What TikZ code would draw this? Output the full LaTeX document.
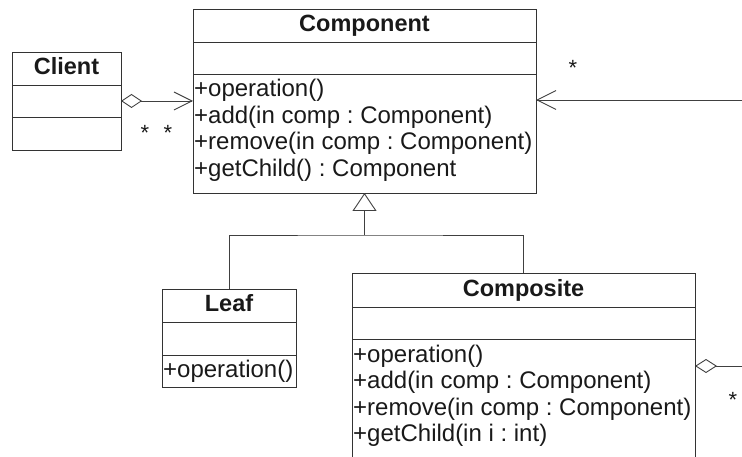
\documentclass[tikz,border=0pt]{standalone}
\usepackage{fontspec}
\setmainfont{Liberation Sans}
\usetikzlibrary{arrows.meta,calc}
\frenchspacing
\begin{document}
\begin{tikzpicture}[x=1pt,y=-1pt,
  umlbox/.style={draw=black!80, line width=0.9pt, rectangle, anchor=north west, inner sep=0pt, outer sep=0pt},
  classtitle/.style={font=\fontsize{23.5}{26}\selectfont\bfseries, anchor=base, inner sep=0pt, text=black!90},
  member/.style={font=\fontsize{24}{26}\selectfont\frenchspacing, anchor=base west, inner sep=0pt, text=black!90},
  multlabel/.style={font=\fontsize{22}{26}\selectfont, anchor=base, inner sep=0pt, text=black!90},
  compsep/.style={draw=black!80, line width=0.9pt},
  conn/.style={draw=black!75, line width=0.9pt},
  aggarrow/.style={conn, {Diamond[open,length=21pt,width=14pt]}-{Straight Barb[length=18pt,width=18pt]}},
  navarrow/.style={conn, -{Straight Barb[length=19pt,width=19pt]}},
  aggline/.style={conn, {Diamond[open,length=22pt,width=14pt]}-},
  genarrow/.style={conn, -{Triangle[open,length=18pt,width=24pt]}}
]
\useasboundingbox (0,0) rectangle (742,457);
\clip (0,0) rectangle (742,457);

% Component
\node[umlbox, minimum width=343pt, minimum height=184pt] (comp) at (193,9) {};
\draw[compsep] ($(comp.north west)+(0,33)$) -- ($(comp.north east)+(0,33)$);
\draw[compsep] ($(comp.north west)+(0,65)$) -- ($(comp.north east)+(0,65)$);
\node[classtitle] (comptitle) at (364.5,32) {Component};
\node[member] (compop) at (194,97) {+operation()};
\node[member] (compadd) at (194,123.5) {+add(in comp : Component)};
\node[member] (comprem) at (194,150) {+remove(in comp : Component)};
\node[member] (compget) at (194,176.5) {+getChild() : Component};

% Client
\node[umlbox, minimum width=109pt, minimum height=98pt] (client) at (12,52) {};
\draw[compsep] ($(client.north west)+(0,33)$) -- ($(client.north east)+(0,33)$);
\draw[compsep] ($(client.north west)+(0,65)$) -- ($(client.north east)+(0,65)$);
\node[classtitle] (clienttitle) at (66.5,75) {Client};

% Leaf
\node[umlbox, minimum width=134pt, minimum height=98pt] (leaf) at (162,289) {};
\draw[compsep] ($(leaf.north west)+(0,33)$) -- ($(leaf.north east)+(0,33)$);
\draw[compsep] ($(leaf.north west)+(0,66)$) -- ($(leaf.north east)+(0,66)$);
\node[classtitle] (leaftitle) at (229,312) {Leaf};
\node[member] (leafop) at (163,377.5) {+operation()};

% Composite
\node[umlbox, minimum width=343pt, minimum height=200pt] (composite) at (352,273) {};
\draw[compsep] ($(composite.north west)+(0,34)$) -- ($(composite.north east)+(0,34)$);
\draw[compsep] ($(composite.north west)+(0,66)$) -- ($(composite.north east)+(0,66)$);
\node[classtitle] (comptitle2) at (523.5,297) {Composite};
\node[member] (cop) at (353,362) {+operation()};
\node[member] (cadd) at (353,388.5) {+add(in comp : Component)};
\node[member] (crem) at (353,415) {+remove(in comp : Component)};
\node[member] (cget) at (353,441.5) {+getChild(in i : int)};

% Client -> Component aggregation
\draw[aggarrow] (client.east) -- (client.east -| comp.west);
\node[multlabel] (star1) at (145,141) {*};
\node[multlabel] (star2) at (168,141) {*};

% incoming association on the right
\coordinate (rightend) at (742,100);
\draw[navarrow] (rightend) -- (rightend -| comp.east);
\node[multlabel] (star3) at (573,76) {*};

% Composite aggregation going off to the right
\coordinate (compright) at (742,366);
\draw[aggline] (composite.east |- compright) -- (compright);
\node[multlabel] (star4) at (733,407) {*};

% generalization
\coordinate (junction) at (364.5,235);
\draw[genarrow] (junction) -- (junction |- comp.south);
\draw[conn] (leaf.north) |- (junction) -| (composite.north);
\end{tikzpicture}
\end{document}
